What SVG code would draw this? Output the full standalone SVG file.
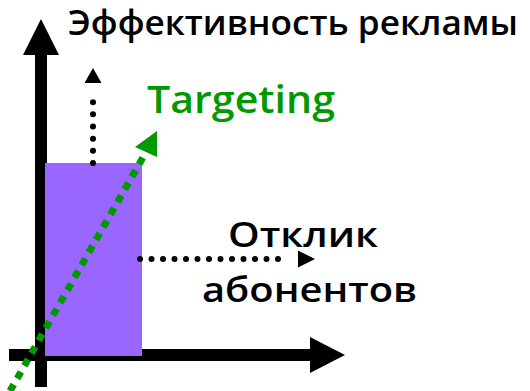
<svg xmlns="http://www.w3.org/2000/svg" width="530" height="391" viewBox="0 0 530 391">
<style>
.t{font-family:"Open Sans","DejaVu Sans",sans-serif;font-weight:600;fill:#000}
.g{fill:#009900}
.dots{fill:none;stroke:#000;stroke-width:6;stroke-linecap:round}
</style>
<rect width="530" height="391" fill="#fff"/>
<g id="axes">
<rect x="35" y="54" width="12" height="333" fill="#000"/>
<polygon points="41,19 59,55 23,55" fill="#000"/>
<rect x="9" y="349" width="302" height="12" fill="#000"/>
<polygon points="345,355 310,337 310,373" fill="#000"/>
</g>
<g id="box">
<rect x="45" y="163" width="97" height="193" fill="#9966FF"/>
</g>
<g id="connectors">
<path class="dots" d="M93,163 V90" stroke-dasharray="0 12.17"/>
<polygon points="93,68 101.5,83 84.5,83" fill="#000"/>
<path class="dots" d="M140,259 H289.5" stroke-dasharray="0 11.5"/>
<polygon points="315,259 298,250.5 298,267.5" fill="#000"/>
<path d="M10,391 L146,152" fill="none" stroke="#009900" stroke-width="7" stroke-dasharray="7.5 7"/>
<polygon points="157,131 157,157 135,147" fill="#009900"/>
</g>
<g id="label-y">
<text class="t" x="68" y="35" font-size="34" textLength="450" lengthAdjust="spacingAndGlyphs">Эффективность рекламы</text>
</g>
<g id="label-targeting">
<text class="t g" x="147" y="113" font-size="38" textLength="188" lengthAdjust="spacingAndGlyphs">Targeting</text>
</g>
<g id="label-x">
<text class="t" x="228" y="247" font-size="34" textLength="150" lengthAdjust="spacingAndGlyphs">Отклик</text>
<text class="t" x="202" y="302" font-size="34" textLength="215" lengthAdjust="spacingAndGlyphs">абонентов</text>
</g>
</svg>
